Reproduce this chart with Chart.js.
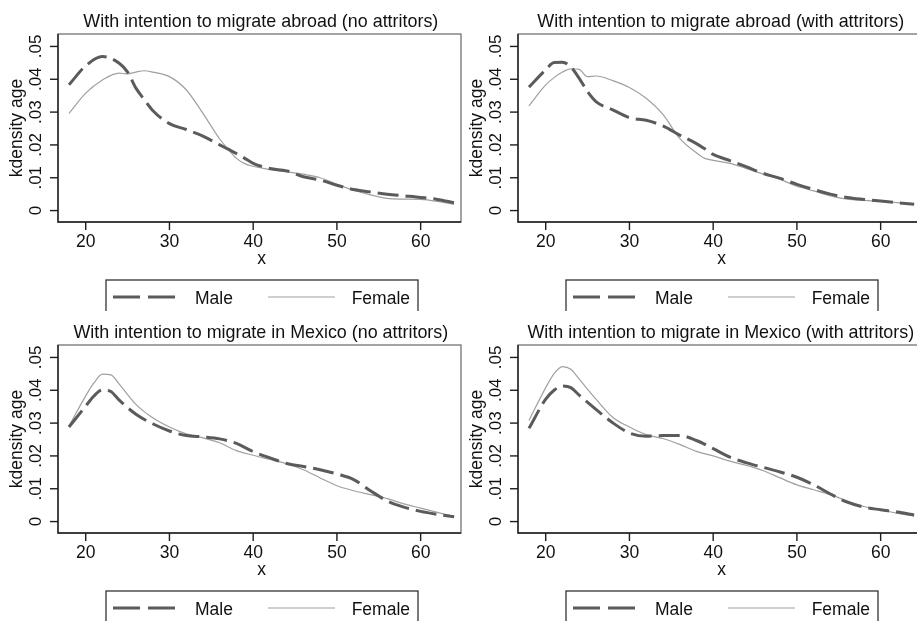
<!DOCTYPE html>
<html>
<head>
<meta charset="utf-8">
<script src="https://cdn.jsdelivr.net/npm/chart.js@4.4.0/dist/chart.umd.min.js"></script>
<style>
html,body{margin:0;padding:0;background:#fff;}
#wrap{position:relative;width:917px;height:621px;overflow:hidden;background:#fff;}
.panel{position:absolute;width:462px;height:311px;}
canvas{display:block;}
</style>
</head>
<body>
<div id="wrap">
  <div class="panel" style="left:0;top:0"><canvas id="c1" width="462" height="311"></canvas></div>
  <div class="panel" style="left:460px;top:0"><canvas id="c2" width="462" height="311"></canvas></div>
  <div class="panel" style="left:0;top:311px"><canvas id="c3" width="462" height="311"></canvas></div>
  <div class="panel" style="left:460px;top:311px"><canvas id="c4" width="462" height="311"></canvas></div>
</div>
<script>
// ---- data ----
const panelTitles = [
  "With intention to migrate abroad (no attritors)",
  "With intention to migrate abroad (with attritors)",
  "With intention to migrate in Mexico (no attritors)",
  "With intention to migrate in Mexico (with attritors)"
];
const seriesNames = ["Male", "Female"];
const xTicks = [20, 30, 40, 50, 60];
const yTicks = [0, 0.01, 0.02, 0.03, 0.04, 0.05];
const yTickLabels = ["0", ".01", ".02", ".03", ".04", ".05"];
const xTitle = "x";
const yTitle = "kdensity age";

const agesA = [18,20,22,24,25,26,27,28,30,32,34,36,37,38,39,40,42,44,46,48,50,52,54,56,58,60,62,64];
const maleA = [.0383,.0441,.0469,.0449,.0422,.0373,.0338,.0305,.0265,.0247,.0227,.0200,.0187,.0174,.0159,.0144,.0128,.0121,.0103,.0093,.0077,.0064,.0057,.0050,.0045,.0040,.0034,.0024];
const femaleA = [.0296,.0358,.0398,.0419,.0416,.0422,.0426,.0422,.0408,.0368,.0296,.0218,.0187,.0159,.0143,.0135,.0125,.0118,.0111,.0100,.0080,.0062,.0048,.0037,.0035,.0034,.0028,.0019];

const agesB = [18,20,21,22,23,24,25,26,28,30,32,34,36,38,39,40,42,44,46,48,50,52,54,56,58,60,62,64];
const maleB = [.0376,.0429,.0451,.0452,.0437,.0403,.0362,.0332,.0307,.0283,.0275,.0258,.0230,.0204,.0188,.0171,.0152,.0133,.0113,.0098,.0080,.0064,.0050,.0040,.0034,.0029,.0024,.0019];
const femaleB = [.0319,.0383,.0405,.0422,.0432,.0430,.0408,.0410,.0396,.0375,.0342,.0293,.0220,.0176,.0159,.0153,.0144,.0128,.0111,.0095,.0074,.0060,.0045,.0035,.0031,.0028,.0024,.0018];

const agesC = [18,20,21,22,23,24,26,28,30,32,34,36,38,40,42,44,46,48,50,52,54,56,58,60,62,64];
const maleC = [.0288,.0352,.0383,.0401,.0396,.0370,.0327,.0298,.0276,.0262,.0258,.0252,.0238,.0213,.0194,.0177,.0168,.0158,.0145,.0128,.0094,.0063,.0044,.0031,.0022,.0015];
const femaleC = [.0291,.0383,.0423,.0449,.0447,.0419,.0357,.0316,.0288,.0267,.0255,.0240,.0216,.0202,.0189,.0176,.0158,.0133,.0109,.0094,.0082,.0070,.0054,.0041,.0028,.0015];
const maleD = [.0284,.0373,.0400,.0413,.0408,.0385,.0342,.0301,.0270,.0260,.0262,.0262,.0247,.0222,.0196,.0179,.0165,.0151,.0135,.0112,.0084,.0059,.0044,.0036,.0029,.0020];
const femaleD = [.0308,.0408,.0451,.0472,.0464,.0434,.0373,.0318,.0288,.0265,.0253,.0235,.0214,.0200,.0184,.0171,.0155,.0133,.0112,.0097,.0082,.0063,.0046,.0036,.0025,.0017];

// ---- styling ----
const FONT = '"Liberation Sans", Arial, Helvetica, sans-serif';
const MALE_COLOR = '#5b5b5b';
const FEMALE_COLOR = '#a0a0a0';
const MALE_DASH = [21, 7];

const stataPanel = {
  id: 'stataPanel',
  afterDraw(chart, args, opts) {
    const ctx = chart.ctx;
    const a = chart.chartArea;
    const xs = chart.scales.x, ys = chart.scales.y;
    ctx.save();
    // plot region frame
    ctx.strokeStyle = '#7d7d7d';
    ctx.lineWidth = 1.4;
    ctx.strokeRect(a.left, a.top, a.right - a.left, a.bottom - a.top);
    // axis lines
    ctx.strokeStyle = '#1e1e1e';
    ctx.lineWidth = 1.4;
    ctx.beginPath();
    ctx.moveTo(a.left, a.top); ctx.lineTo(a.left, a.bottom + 0.7);
    ctx.moveTo(a.left - 0.7, a.bottom); ctx.lineTo(a.right, a.bottom);
    ctx.stroke();
    ctx.fillStyle = '#111';
    // y ticks
    ctx.font = '17px ' + FONT;
    yTicks.forEach((v, i) => {
      const py = ys.getPixelForValue(v);
      ctx.beginPath(); ctx.moveTo(a.left - 8, py); ctx.lineTo(a.left, py); ctx.stroke();
      ctx.save();
      ctx.translate(a.left - 17.5, py);
      ctx.rotate(-Math.PI / 2);
      ctx.textAlign = 'center'; ctx.textBaseline = 'alphabetic';
      ctx.fillText(yTickLabels[i], 0, 0);
      ctx.restore();
    });
    // x ticks
    ctx.font = '17.5px ' + FONT;
    xTicks.forEach(v => {
      const px = xs.getPixelForValue(v);
      ctx.beginPath(); ctx.moveTo(px, a.bottom); ctx.lineTo(px, a.bottom + 8); ctx.stroke();
      ctx.textAlign = 'center'; ctx.textBaseline = 'alphabetic';
      ctx.fillText(String(v), px, a.bottom + 24.5);
    });
    // axis titles
    const cx = (a.left + a.right) / 2;
    ctx.fillText(xTitle, cx + 2, a.bottom + 42);
    ctx.save();
    ctx.translate(a.left - 36, (a.top + a.bottom) / 2);
    ctx.rotate(-Math.PI / 2);
    ctx.textAlign = 'center';
    ctx.fillText(yTitle, 0, 0);
    ctx.restore();
    // panel title
    ctx.font = '17.9px ' + FONT;
    ctx.textAlign = 'center';
    ctx.fillText(opts.title, cx + 1.3, a.top - 7.5);
    // legend box
    const lx = cx - 153.5, ly = a.bottom + 58, lw = 312, lh = 33;
    ctx.strokeStyle = '#333';
    ctx.lineWidth = 1.3;
    ctx.strokeRect(lx, ly, lw, lh);
    const my = ly + lh / 2 + 0.5;
    ctx.save();
    ctx.strokeStyle = MALE_COLOR; ctx.lineWidth = 3; ctx.setLineDash([27, 8]);
    ctx.beginPath(); ctx.moveTo(lx + 7, my); ctx.lineTo(lx + 69, my); ctx.stroke();
    ctx.restore();
    ctx.save();
    ctx.strokeStyle = FEMALE_COLOR; ctx.lineWidth = 1.2;
    ctx.beginPath(); ctx.moveTo(lx + 162, my); ctx.lineTo(lx + 229, my); ctx.stroke();
    ctx.restore();
    ctx.font = '17.5px ' + FONT;
    ctx.textAlign = 'left';
    ctx.fillText(seriesNames[0], lx + 89, ly + 24);
    ctx.textAlign = 'right';
    ctx.fillText(seriesNames[1], lx + lw - 8, ly + 24);
    ctx.restore();
  }
};

function makePanel(id, title, ages, male, female) {
  const toPts = vals => ages.map((a, i) => ({x: a, y: vals[i]}));
  return new Chart(document.getElementById(id), {
    type: 'line',
    data: {
      datasets: [
        {label: seriesNames[0], data: toPts(male), borderColor: MALE_COLOR, borderWidth: 3,
         borderDash: MALE_DASH, pointRadius: 0, fill: false, cubicInterpolationMode: 'monotone'},
        {label: seriesNames[1], data: toPts(female), borderColor: FEMALE_COLOR, borderWidth: 1.2,
         pointRadius: 0, fill: false, cubicInterpolationMode: 'monotone'}
      ]
    },
    options: {
      responsive: false,
      animation: false,
      devicePixelRatio: window.devicePixelRatio || 1,
      layout: {padding: {left: 58, top: 34, right: 1, bottom: 89}},
      scales: {
        x: {type: 'linear', min: 16.69, max: 64.82, display: false},
        y: {type: 'linear', min: -0.00348, max: 0.05379, display: false}
      },
      plugins: {
        legend: {display: false},
        tooltip: {enabled: false},
        stataPanel: {title: title}
      }
    },
    plugins: [stataPanel]
  });
}

makePanel('c1', panelTitles[0], agesA, maleA, femaleA);
makePanel('c2', panelTitles[1], agesB, maleB, femaleB);
makePanel('c3', panelTitles[2], agesC, maleC, femaleC);
makePanel('c4', panelTitles[3], agesC, maleD, femaleD);
</script>
</body>
</html>
